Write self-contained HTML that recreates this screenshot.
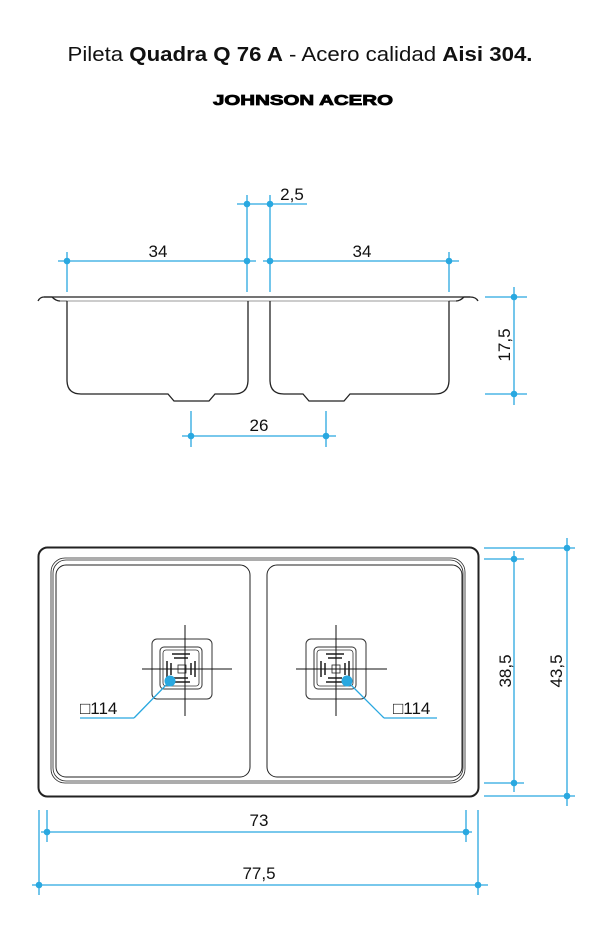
<!DOCTYPE html>
<html><head><meta charset="utf-8"><style>
html,body{margin:0;padding:0;background:#fff;}
svg{display:block;font-family:"Liberation Sans",sans-serif;}
</style></head><body>
<svg width="606" height="938" viewBox="0 0 606 938" xmlns="http://www.w3.org/2000/svg">
<text x="300" y="61" text-anchor="middle" font-size="20.5" fill="#111" textLength="465" lengthAdjust="spacingAndGlyphs">Pileta <tspan font-weight="bold">Quadra Q 76 A</tspan> - Acero calidad <tspan font-weight="bold">Aisi 304.</tspan></text>
<text x="303" y="105" text-anchor="middle" font-size="15" font-weight="900" fill="#000" stroke="#000" stroke-width="0.8" textLength="180" lengthAdjust="spacingAndGlyphs">JOHNSON ACERO</text>

<!-- TOP VIEW (section) -->
<g fill="none" stroke="#222" stroke-width="1.3">
<path d="M38,301 Q40,297 44,297 L470,297 Q476,297 478,301"/>
<path d="M44,297 L52,297 Q56,301 60,301 L67,301 M470,297 L464,297 Q460,301 456,301 L449,301"/>
<line x1="60" y1="301" x2="456" y2="301" stroke="#999" stroke-width="1"/>
<path d="M67,301 L67,380 Q67,394 81,394 L168,394 L174,401 L209,401 L215,394 L234,394 Q248,394 248,380 L248,301"/>
<path d="M270,301 L270,380 Q270,394 284,394 L303,394 L309,401 L344,401 L350,394 L435,394 Q449,394 449,380 L449,301"/>
</g>

<g stroke="#29a8e0" stroke-width="1.3" fill="#29a8e0">
<line x1="67" y1="252" x2="67" y2="292"/>
<line x1="247" y1="195" x2="247" y2="292"/>
<line x1="270" y1="195" x2="270" y2="292"/>
<line x1="449" y1="252" x2="449" y2="292"/>
<line x1="58" y1="261" x2="256" y2="261"/>
<line x1="263" y1="261" x2="459" y2="261"/>
<line x1="237" y1="204" x2="307" y2="204"/>
<circle cx="67" cy="261" r="3.3" stroke="none"/><circle cx="247" cy="261" r="3.3" stroke="none"/>
<circle cx="270" cy="261" r="3.3" stroke="none"/><circle cx="449" cy="261" r="3.3" stroke="none"/>
<circle cx="247" cy="204" r="3.3" stroke="none"/><circle cx="270" cy="204" r="3.3" stroke="none"/>
<line x1="191" y1="411" x2="191" y2="447"/><line x1="326" y1="411" x2="326" y2="447"/>
<line x1="182" y1="436" x2="336" y2="436"/>
<circle cx="191" cy="436" r="3.3" stroke="none"/><circle cx="326" cy="436" r="3.3" stroke="none"/>
<line x1="485" y1="297" x2="527" y2="297"/><line x1="485" y1="394" x2="527" y2="394"/>
<line x1="514" y1="287" x2="514" y2="405"/>
<circle cx="514" cy="297" r="3.3" stroke="none"/><circle cx="514" cy="394" r="3.3" stroke="none"/>
</g>
<g font-size="17" fill="#111">
<text x="158" y="257" text-anchor="middle">34</text>
<text x="362" y="257" text-anchor="middle">34</text>
<text x="292" y="200" text-anchor="middle">2,5</text>
<text x="259" y="431" text-anchor="middle">26</text>
<text transform="translate(510,345) rotate(-90)" text-anchor="middle">17,5</text>
</g>

<!-- PLAN VIEW -->
<g fill="none" stroke="#222">
<rect x="38.5" y="547.5" width="440" height="249" rx="9" stroke-width="2"/>
<rect x="51" y="558" width="414" height="225" rx="14" stroke-width="0.8"/>
<rect x="53" y="560" width="410" height="221" rx="13" stroke-width="0.8"/>
<rect x="56" y="565" width="194" height="212" rx="10" stroke-width="1"/>
<rect x="267" y="565" width="195" height="212" rx="10" stroke-width="1"/>
</g>

<g transform="translate(182,669)">
<rect x="-30" y="-30" width="60" height="60" rx="5" fill="none" stroke="#333" stroke-width="1"/>
<rect x="-22" y="-22" width="42" height="42" rx="4" fill="none" stroke="#333" stroke-width="1"/>
<rect x="-19" y="-19" width="36" height="36" rx="3" fill="none" stroke="#333" stroke-width="0.8"/>
<g stroke="#555" stroke-width="2">
<line x1="-10" y1="-15" x2="8" y2="-15"/><line x1="-8" y1="-11" x2="6" y2="-11"/>
<line x1="-10" y1="13" x2="8" y2="13"/><line x1="-8" y1="9" x2="6" y2="9"/>
<line x1="-15" y1="-8" x2="-15" y2="8"/><line x1="-11" y1="-6" x2="-11" y2="6"/>
<line x1="13" y1="-8" x2="13" y2="8"/><line x1="9" y1="-6" x2="9" y2="6"/>
</g>
<rect x="-4" y="-4" width="8" height="8" fill="none" stroke="#222" stroke-width="0.8"/>
</g>
<g transform="translate(336,669)">
<rect x="-30" y="-30" width="60" height="60" rx="5" fill="none" stroke="#333" stroke-width="1"/>
<rect x="-22" y="-22" width="42" height="42" rx="4" fill="none" stroke="#333" stroke-width="1"/>
<rect x="-19" y="-19" width="36" height="36" rx="3" fill="none" stroke="#333" stroke-width="0.8"/>
<g stroke="#555" stroke-width="2">
<line x1="-10" y1="-15" x2="8" y2="-15"/><line x1="-8" y1="-11" x2="6" y2="-11"/>
<line x1="-10" y1="13" x2="8" y2="13"/><line x1="-8" y1="9" x2="6" y2="9"/>
<line x1="-15" y1="-8" x2="-15" y2="8"/><line x1="-11" y1="-6" x2="-11" y2="6"/>
<line x1="13" y1="-8" x2="13" y2="8"/><line x1="9" y1="-6" x2="9" y2="6"/>
</g>
<rect x="-4" y="-4" width="8" height="8" fill="none" stroke="#222" stroke-width="0.8"/>
</g>
<g stroke="#111" stroke-width="1">
<line x1="142" y1="669" x2="232" y2="669"/><line x1="185" y1="625" x2="185" y2="716"/>
<line x1="296" y1="669" x2="387" y2="669"/><line x1="336" y1="625" x2="336" y2="716"/>
</g>

<g stroke="#29a8e0" stroke-width="1.3" fill="#29a8e0">
<line x1="170" y1="681" x2="134" y2="718"/><line x1="134" y1="718" x2="80" y2="718"/>
<circle cx="170" cy="681" r="5.5" stroke="none"/>
<line x1="347" y1="681" x2="384" y2="718"/><line x1="384" y1="718" x2="437" y2="718"/>
<circle cx="347" cy="681" r="5.5" stroke="none"/>
<line x1="484" y1="548" x2="575" y2="548"/><line x1="484" y1="796" x2="575" y2="796"/>
<line x1="567" y1="538" x2="567" y2="806"/>
<circle cx="567" cy="548" r="3.3" stroke="none"/><circle cx="567" cy="796" r="3.3" stroke="none"/>
<line x1="484" y1="559" x2="524" y2="559"/><line x1="484" y1="783" x2="524" y2="783"/>
<line x1="514" y1="551" x2="514" y2="792"/>
<circle cx="514" cy="559" r="3.3" stroke="none"/><circle cx="514" cy="783" r="3.3" stroke="none"/>
<line x1="47" y1="810" x2="47" y2="842"/><line x1="466" y1="810" x2="466" y2="842"/>
<line x1="41" y1="832" x2="472" y2="832"/>
<circle cx="47" cy="832" r="3.3" stroke="none"/><circle cx="466" cy="832" r="3.3" stroke="none"/>
<line x1="39" y1="810" x2="39" y2="895"/><line x1="478" y1="810" x2="478" y2="895"/>
<line x1="32" y1="885" x2="488" y2="885"/>
<circle cx="39" cy="885" r="3.3" stroke="none"/><circle cx="478" cy="885" r="3.3" stroke="none"/>
</g>
<g font-size="17" fill="#111">
<text x="80" y="714">□114</text>
<text x="393" y="714">□114</text>
<text x="259" y="826" text-anchor="middle">73</text>
<text x="259" y="879" text-anchor="middle">77,5</text>
<text transform="translate(511,671) rotate(-90)" text-anchor="middle">38,5</text>
<text transform="translate(562,671) rotate(-90)" text-anchor="middle">43,5</text>
</g>
</svg>
</body></html>
